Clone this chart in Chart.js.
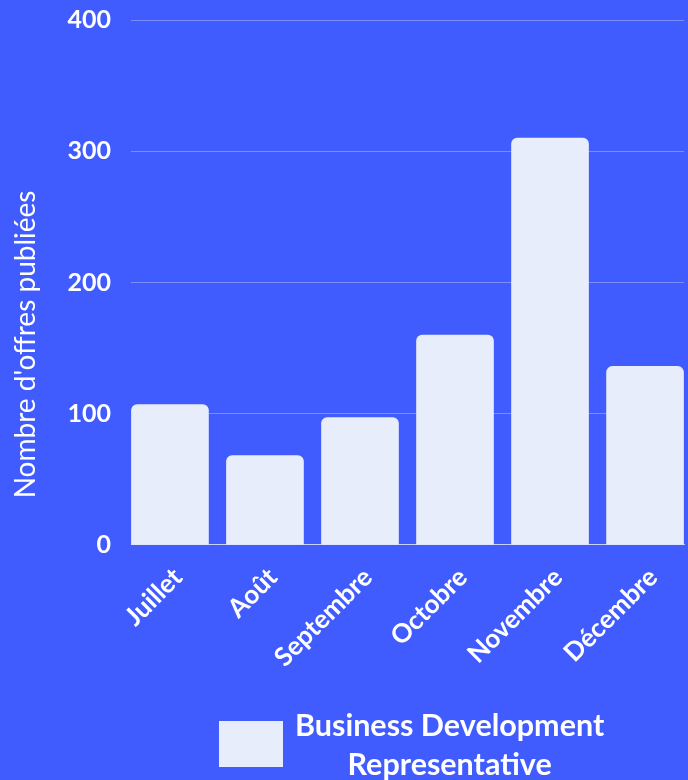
<!DOCTYPE html>
<html lang="fr">
<head>
<meta charset="utf-8">
<title>Offres publiées</title>
<script src="https://cdn.jsdelivr.net/npm/chart.js@4.4.1/dist/chart.umd.min.js"></script>
<style>
  html, body { margin: 0; padding: 0; background: #405cff; overflow: hidden; }
  #wrap { position: relative; width: 688px; height: 780px; }
  #legend {
    position: absolute; left: 219px; top: 705px;
    display: flex; align-items: center; gap: 12px;
    font-family: Lato, "Open Sans", sans-serif; font-weight: 700;
    font-size: 30.5px; line-height: 39px; color: #ffffff;
  }
  #legend .box { width: 64px; height: 46px; background: #e8edfc; }
  #legend .text { text-align: center; }
</style>
</head>
<body>
<div id="wrap">
  <canvas id="offersChart"></canvas>
  <div id="legend"></div>
</div>
<script>
        // Values
        const months = ['Juillet', 'Août', 'Septembre', 'Octobre', 'Novembre', 'Décembre'];
        const offers = [107, 68, 97, 160, 310, 136];
        const yTicks = [0, 100, 200, 300, 400];
        const seriesLabel = ['Business Development', 'Representative'];
        const yTitle = "Nombre d'offres publiées";

        const fontFamily = 'Lato, "Open Sans", sans-serif';
        const barColor = '#e8edfc';

        // y title sits a bit lower than the middle of the chart area
        const yTitlePlugin = {
            id: 'yTitle',
            afterDraw(chart) {
                const { ctx, chartArea } = chart;
                const cy = (chartArea.top + chartArea.bottom) / 2 + 62;
                ctx.save();
                ctx.translate(35, cy);
                ctx.rotate(-Math.PI / 2);
                ctx.font = '400 28px ' + fontFamily;
                ctx.fillStyle = '#ffffff';
                ctx.textAlign = 'center';
                ctx.textBaseline = 'alphabetic';
                ctx.fillText(yTitle, 0, 0);
                ctx.restore();
            }
        };

        const ctx = document.getElementById('offersChart').getContext('2d');

        const chart = new Chart(ctx, {
            type: 'bar',
            data: {
                datasets: [{
                    label: seriesLabel.join(' '),
                    data: months.map((m, i) => ({ x: i, y: offers[i] })),
                    backgroundColor: barColor,
                    borderRadius: 6,
                    borderSkipped: 'start',
                    barThickness: 77
                }]
            },
            options: {
                responsive: true,
                maintainAspectRatio: false,
                animation: false,
                layout: { padding: { top: 0, right: 4, bottom: 90 } },
                scales: {
                    x: {
                        type: 'linear',
                        offset: false,
                        min: -0.41,
                        max: 5.41,
                        afterBuildTicks: (axis) => {
                            axis.ticks = months.map((m, i) => ({ value: i }));
                        },
                        grid: { display: false, drawTicks: false },
                        border: { display: true, color: 'rgba(255,255,255,0.6)', width: 1 },
                        ticks: {
                            autoSkip: false,
                            minRotation: 45,
                            maxRotation: 45,
                            padding: 17,
                            labelOffset: 8,
                            color: '#ffffff',
                            font: { family: fontFamily, size: 26, weight: 'bold' },
                            callback: (v) => months[v]
                        }
                    },
                    y: {
                        min: 0,
                        max: 400,
                        afterBuildTicks: (axis) => {
                            axis.ticks = yTicks.map(v => ({ value: v }));
                        },
                        afterFit: (axis) => {
                            axis.width = 131;
                            axis.paddingTop = 20;
                        },
                        grid: { color: 'rgba(255,255,255,0.3)', drawTicks: false },
                        border: { display: false },
                        ticks: {
                            padding: 20,
                            color: '#ffffff',
                            font: { family: fontFamily, size: 25, weight: 'bold' }
                        }
                    }
                },
                plugins: {
                    tooltip: { enabled: false },
                    legend: { display: false }
                }
            },
            plugins: [yTitlePlugin]
        });

        // legend drawn as html, lines centred like the reference
        const legend = document.getElementById('legend');
        const box = document.createElement('span');
        box.className = 'box';
        box.style.background = barColor;
        const text = document.createElement('span');
        text.className = 'text';
        text.innerHTML = seriesLabel.join('<br>');
        legend.appendChild(box);
        legend.appendChild(text);
</script>
</body>
</html>
